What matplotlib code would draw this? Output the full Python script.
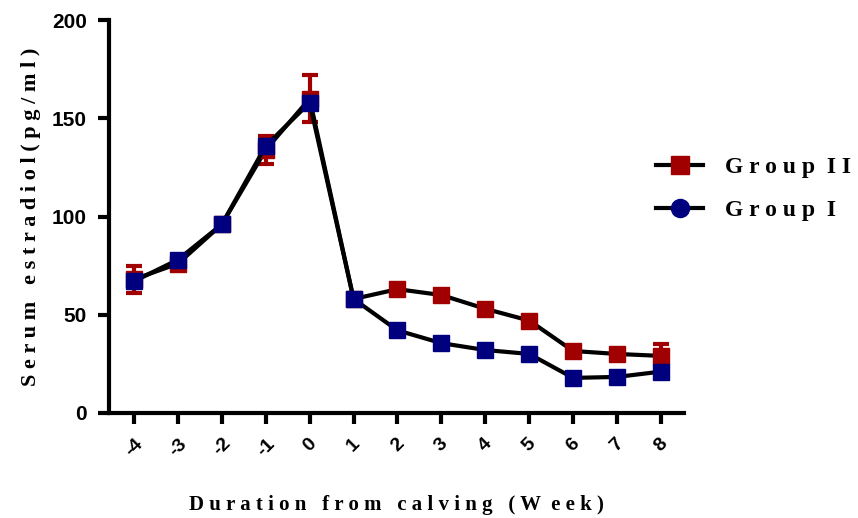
import numpy as np
import matplotlib
matplotlib.use("Agg")
import matplotlib.pyplot as plt
from matplotlib.lines import Line2D

weeks = [-4, -3, -2, -1, 0, 1, 2, 3, 4, 5, 6, 7, 8]
tick_labels = ["-4", "-3", "-2", "-1", "0", "1", "2", "3", "4", "5", "6", "7", "8"]

group2 = [68, 76, 96, 134, 160, 58, 63, 60, 53, 47, 31.5, 30, 29]
group2_err = [7, 3, 2, 7, 12, 1, 1, 1, 1, 1, 1, 1, 6]
group1 = [67, 78, 96, 136, 158, 58, 42, 35.5, 32, 30, 17.8, 18.3, 21]
group1_err = [2, 2, 1, 3, 3, 1, 1, 1, 1, 1, 1, 1, 1]

red = "#a00000"
blue = "#00007f"

fig = plt.figure(figsize=(8.58, 5.18), dpi=100)
ax = fig.add_axes([0.127, 0.203, 0.67, 0.758])

ax.errorbar(weeks, group2, yerr=group2_err, color="black", lw=3,
            marker="s", ms=11, mfc=red, mec=red, ecolor=red, elinewidth=3,
            capsize=6, capthick=3, zorder=3)
ax.errorbar(weeks, group1, yerr=group1_err, color="black", lw=3,
            marker="s", ms=11, mfc=blue, mec=blue, ecolor=blue, elinewidth=3,
            capsize=5, capthick=3, zorder=4)

ax.set_xlim(-4.57, 8.52)
ax.set_ylim(0, 200)
ax.set_yticks([0, 50, 100, 150, 200])
ax.set_xticks(weeks)
ax.set_xticklabels(tick_labels, rotation=45, ha="center", va="top",
                   fontfamily="Liberation Sans", fontweight="bold", fontsize=14)
for lab in ax.get_yticklabels():
    lab.set_fontfamily("Liberation Sans")
    lab.set_fontweight("bold")
    lab.set_fontsize(15)

for s in ["top", "right"]:
    ax.spines[s].set_visible(False)
for s in ["left", "bottom"]:
    ax.spines[s].set_linewidth(3)
ax.tick_params(width=3, length=8, direction="out", pad=8)

ax.set_xlabel("D u r a t i o n   f r o m   c a l v i n g   ( W  e e k )",
              fontfamily="Liberation Serif", fontweight="bold", fontsize=15,
              labelpad=26)
ax.set_ylabel("S e r u m   e s t r a d i o l ( p g / m l )",
              fontfamily="Liberation Serif", fontweight="bold", fontsize=16,
              labelpad=8)

handles = [
    Line2D([], [], color="black", lw=3, marker="s", ms=13, mfc=red, mec=red),
    Line2D([], [], color="black", lw=3, marker="o", ms=13, mfc=blue, mec=blue),
]
fig.legend(handles, ["G r o u p  I I", "G r o u p  I"], loc="center left",
           bbox_to_anchor=(0.74, 0.635), frameon=False, handlelength=2,
           handletextpad=0.9, labelspacing=0.9,
           prop={"family": "Liberation Serif", "weight": "bold", "size": 17})

fig.savefig("out.png", dpi=100)
